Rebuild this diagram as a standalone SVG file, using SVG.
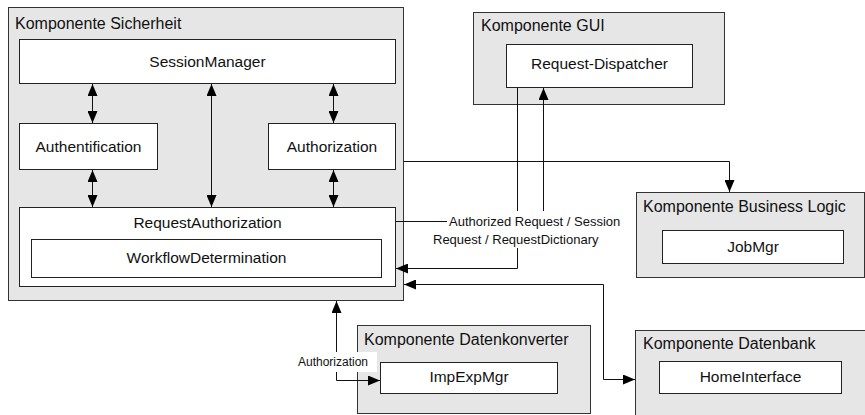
<svg xmlns="http://www.w3.org/2000/svg" width="865" height="415" viewBox="0 0 865 415">
<style>
.comp{fill:#e6e6e6;stroke:#333;stroke-width:1}
.node{fill:#fff;stroke:#222;stroke-width:1}
.title{font-family:"Liberation Sans",Arial,sans-serif;font-size:16px;fill:#111}
.lbl{font-family:"Liberation Sans",Arial,sans-serif;font-size:15.5px;fill:#111;text-anchor:middle}
.clbl{font-family:"Liberation Sans",Arial,sans-serif;font-size:13px;fill:#111}
.slbl{font-family:"Liberation Sans",Arial,sans-serif;font-size:12px;fill:#111}
.c{fill:none;stroke:#111;stroke-width:1}
</style>
<defs>
<marker id="ah" viewBox="0 0 12 10" refX="12" refY="5" markerWidth="12" markerHeight="10" markerUnits="userSpaceOnUse" orient="auto-start-reverse"><path d="M0,0 L12,5 L0,10 z" fill="#000"/></marker>
</defs>
<rect width="865" height="415" fill="#fff"/>
<g id="sicherheit">
<rect class="comp" x="8.5" y="7.5" width="395" height="293"/>
<text class="title" x="15" y="29">Komponente Sicherheit</text>
</g>
<g id="sessionmanager"><rect class="node" x="19.5" y="39.5" width="376" height="44"/><text class="lbl" x="207.5" y="67">SessionManager</text></g>
<g id="authentification"><rect class="node" x="19.5" y="123.5" width="138" height="46"/><text class="lbl" x="88.5" y="152">Authentification</text></g>
<g id="authorization"><rect class="node" x="268.5" y="123.5" width="127" height="46"/><text class="lbl" x="332" y="152">Authorization</text></g>
<g id="requestauthorization"><rect class="node" x="19.5" y="207.5" width="376" height="79"/><text class="lbl" x="207.5" y="228">RequestAuthorization</text></g>
<g id="workflowdetermination"><rect class="node" x="31.5" y="239.5" width="350" height="38"/><text class="lbl" x="206.5" y="263">WorkflowDetermination</text></g>
<g id="gui"><rect class="comp" x="473.5" y="12.5" width="251" height="92"/><text class="title" x="481" y="31">Komponente GUI</text></g>
<g id="requestdispatcher"><rect class="node" x="506.5" y="44.5" width="186" height="43"/><text class="lbl" x="599.5" y="69">Request-Dispatcher</text></g>
<g id="businesslogic"><rect class="comp" x="636.5" y="192.5" width="228" height="85"/><text class="title" x="643" y="212">Komponente Business Logic</text></g>
<g id="jobmgr"><rect class="node" x="662.5" y="230.5" width="181" height="33"/><text class="lbl" x="753" y="252">JobMgr</text></g>
<g id="datenkonverter"><rect class="comp" x="357.5" y="325.5" width="233" height="88"/><text class="title" x="364" y="345">Komponente Datenkonverter</text></g>
<g id="impexpmgr"><rect class="node" x="380.5" y="362.5" width="177" height="31"/><text class="lbl" x="469" y="382">ImpExpMgr</text></g>
<g id="datenbank"><rect class="comp" x="635.5" y="330.5" width="232" height="90"/><text class="title" x="643" y="349">Komponente Datenbank</text></g>
<g id="homeinterface"><rect class="node" x="659.5" y="361.5" width="182" height="32"/><text class="lbl" x="750.5" y="382">HomeInterface</text></g>
<g id="connectors">
<path class="c" d="M92.5,84 V123" marker-start="url(#ah)" marker-end="url(#ah)"/>
<path class="c" d="M92.5,170 V207" marker-start="url(#ah)" marker-end="url(#ah)"/>
<path class="c" d="M211.5,84 V207" marker-start="url(#ah)" marker-end="url(#ah)"/>
<path class="c" d="M333.5,84 V123" marker-start="url(#ah)" marker-end="url(#ah)"/>
<path class="c" d="M333.5,170 V207" marker-start="url(#ah)" marker-end="url(#ah)"/>
<path class="c" d="M404,161.5 H729.5 V192" marker-end="url(#ah)"/>
<path class="c" d="M517.5,88 V211"/>
<path class="c" d="M517.5,248 V268.5 H396" marker-end="url(#ah)"/>
<path class="c" d="M396,221.5 H447"/>
<path class="c" d="M543.5,211 V88" marker-end="url(#ah)"/>
<path class="c" d="M404,284.5 H603.5 V379.5 H635" marker-start="url(#ah)" marker-end="url(#ah)"/>
<path class="c" d="M380,380.5 H336.5 V301" marker-start="url(#ah)" marker-end="url(#ah)"/>
<rect x="295" y="352" width="82" height="20" fill="#fff"/>
<text class="slbl" x="298" y="366">Authorization</text>
<text class="clbl" x="449" y="226">Authorized Request / Session</text>
<text class="clbl" x="433" y="244">Request / RequestDictionary</text>
</g>
</svg>
